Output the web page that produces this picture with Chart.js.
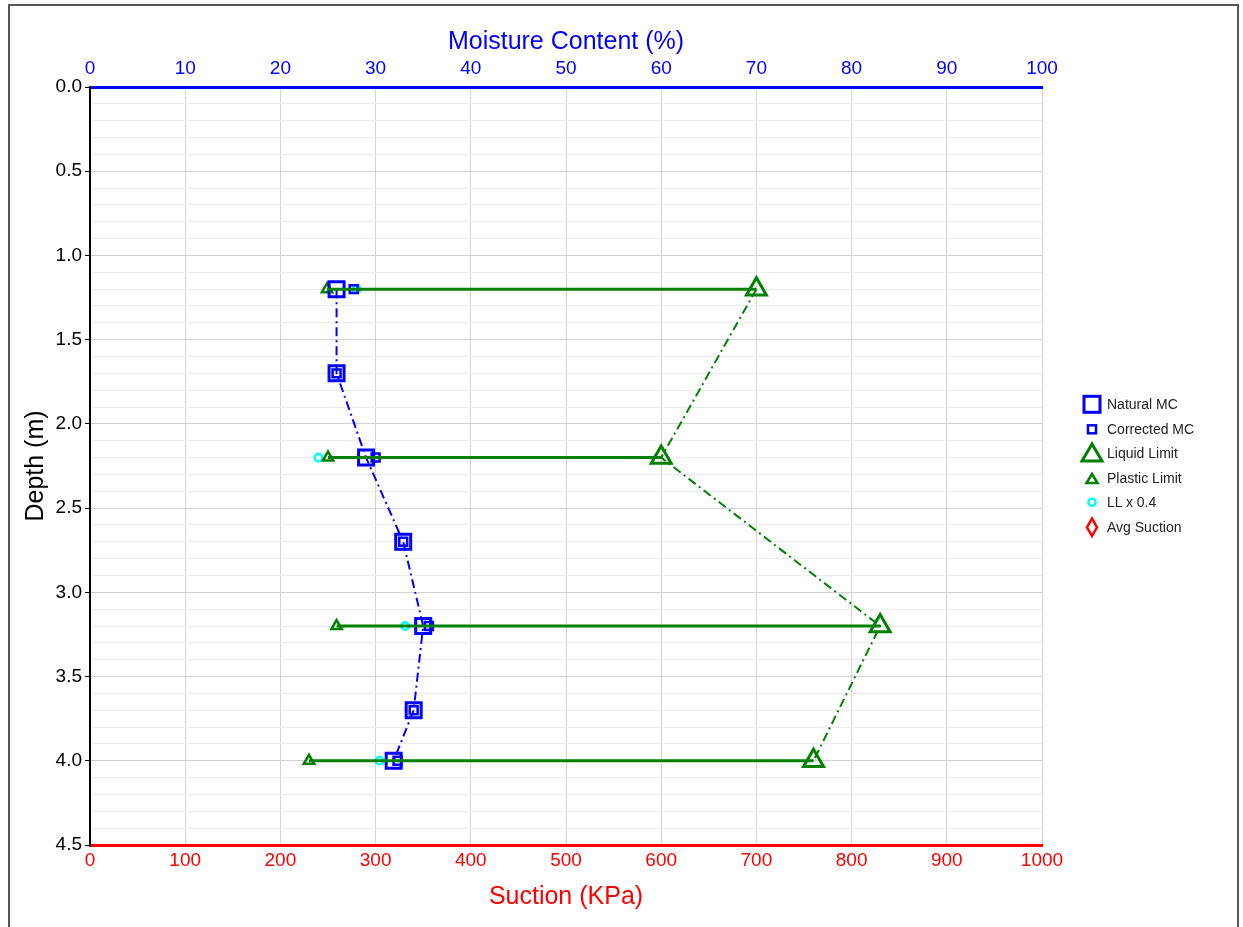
<!DOCTYPE html>
<html>
<head>
<meta charset="utf-8">
<script src="https://cdn.jsdelivr.net/npm/chart.js@4"></script>
<style>
  body { margin: 0; background: #fff; font-family: "Liberation Sans", Arial, sans-serif; }
  #wrap { position: relative; width: 1243px; height: 927px; }
  #frame { position: absolute; left: 8px; top: 4px; width: 1227px; height: 940px; border: 2px solid #555; border-bottom: none; pointer-events: none; }
  #legend { position: absolute; left: 1078px; top: 392px; font-size: 14px; color: #222; }
  #legend .row { position: relative; height: 24.6px; line-height: 24.6px; padding-left: 29px; }
  #legend svg { position: absolute; left: 0; top: 0; }
</style>
</head>
<body>
<div id="wrap">
  <canvas id="myChart" width="1243" height="927"></canvas>
  <div id="frame"></div>
  <div id="legend"></div>
</div>
<script>
// depths (m)
var depthMC = [1.2, 1.7, 2.2, 2.7, 3.2, 3.7, 4.0];
var naturalMC = [25.9, 25.9, 29.0, 32.9, 35.0, 34.0, 31.9];
var correctedMC = [27.7, 25.9, 30.0, 32.9, 35.6, 34.0, 32.3];

var depthLim = [1.2, 2.2, 3.2, 4.0];
var liquidLimit = [70, 60, 83, 76];
var plasticLimit = [24.9, 25.0, 25.9, 23.0];
var llTimes04 = [28.0, 24.0, 33.1, 30.4];

var avgSuction = []; // none plotted

var blue = '#0000ff', green = '#008000', cyan = '#00ffff', red = '#ff0000';

function pts(xs, ys) {
    var out = [];
    for (var i = 0; i < xs.length; i++) out.push({x: xs[i], y: ys[i]});
    return out;
}

// PL -> LL horizontal bars, broken between depths
var rangeLines = [];
for (var i = 0; i < depthLim.length; i++) {
    rangeLines.push({x: plasticLimit[i], y: depthLim[i]});
    rangeLines.push({x: liquidLimit[i], y: depthLim[i]});
    rangeLines.push({x: NaN, y: NaN});
}

var dashDot = [9, 4, 2, 4];
var font = "'Liberation Sans', Arial, sans-serif";

const ctx = document.getElementById('myChart');
chart = new Chart(ctx, {
    type: 'scatter',
    data: {
        datasets: [{
            label: 'range',
            data: rangeLines,
            showLine: true,
            spanGaps: false,
            borderColor: green,
            borderWidth: 3,
            pointRadius: 0
        }, {
            label: 'Natural MC',
            data: pts(naturalMC, depthMC),
            showLine: true,
            borderColor: blue,
            borderWidth: 2,
            borderDash: dashDot,
            pointStyle: 'rect',
            pointRadius: 10.6,
            pointBorderWidth: 3,
            pointBorderColor: blue,
            pointBackgroundColor: 'rgba(0,0,0,0)'
        }, {
            label: 'Corrected MC',
            data: pts(correctedMC, depthMC),
            pointStyle: 'rect',
            pointRadius: 5.6,
            pointBorderWidth: 2.5,
            pointBorderColor: blue,
            pointBackgroundColor: 'rgba(0,0,0,0)'
        }, {
            label: 'Liquid Limit',
            data: pts(liquidLimit, depthLim),
            showLine: true,
            borderColor: green,
            borderWidth: 2,
            borderDash: dashDot,
            pointStyle: 'triangle',
            pointRadius: 11.5,
            pointBorderWidth: 3,
            pointBorderColor: green,
            pointBackgroundColor: 'rgba(0,0,0,0)'
        }, {
            label: 'Plastic Limit',
            data: pts(plasticLimit, depthLim),
            pointStyle: 'triangle',
            pointRadius: 6,
            pointBorderWidth: 2.5,
            pointBorderColor: green,
            pointBackgroundColor: 'rgba(0,0,0,0)'
        }, {
            label: 'LL x 0.4',
            data: pts(llTimes04, depthLim),
            pointStyle: 'circle',
            pointRadius: 3.8,
            pointBorderWidth: 2.5,
            pointBorderColor: cyan,
            pointBackgroundColor: '#fff'
        }, {
            label: 'Avg Suction',
            data: avgSuction,
            xAxisID: 'x2',
            pointStyle: 'rectRot',
            pointRadius: 7,
            pointBorderColor: red
        }]
    },
    options: {
        responsive: false,
        animation: false,
        layout: { padding: { left: 0, top: 0, right: 201, bottom: 0 } },
        plugins: { legend: { display: false }, tooltip: { enabled: false } },
        scales: {
            x: {
                type: 'linear',
                position: 'top',
                min: 0, max: 100,
                afterFit: function(s) { s.height = 87; },
                ticks: { stepSize: 10, color: blue, padding: 7, font: { size: 19, family: font } },
                grid: { color: '#d4d4d4', drawTicks: false },
                border: { color: blue, width: 3 },
                title: { display: true, text: 'Moisture Content (%)', color: blue, padding: { top: 27 }, font: { size: 25, family: font } }
            },
            x2: {
                type: 'linear',
                position: 'bottom',
                min: 0, max: 1000,
                afterFit: function(s) { s.height = 82; },
                ticks: {
                    stepSize: 100, color: red, padding: 4, font: { size: 19, family: font },
                    callback: function(v) { return String(v); }
                },
                grid: { display: false, drawTicks: false },
                border: { color: red, width: 3 },
                title: { display: true, text: 'Suction (KPa)', color: red, padding: { bottom: 15 }, font: { size: 25, family: font } }
            },
            y: {
                type: 'linear',
                reverse: true,
                min: 0, max: 4.5,
                afterFit: function(s) { s.width = 90; },
                ticks: {
                    stepSize: 0.1,
                    autoSkip: false,
                    color: '#000',
                    padding: 3,
                    font: { size: 19, family: font },
                    callback: function(v) {
                        var t = Math.round(v * 10);
                        return t % 5 === 0 ? (t / 10).toFixed(1) : '';
                    }
                },
                grid: {
                    tickLength: 5,
                    color: function(c) { return Math.round(c.tick.value * 10) % 5 === 0 ? '#d2d2d2' : '#ececec'; },
                    tickColor: function(c) { return Math.round(c.tick.value * 10) % 5 === 0 ? '#000' : 'rgba(0,0,0,0)'; }
                },
                border: { color: '#000', width: 2 },
                title: { display: true, text: 'Depth (m)', color: '#000', padding: { top: 21 }, font: { size: 25, family: font } }
            }
        }
    }
});

// legend, drawn beside the chart
var legendItems = [
    { label: 'Natural MC', svg: '<rect x="6" y="4.3" width="16" height="16" fill="none" stroke="' + blue + '" stroke-width="3"/>' },
    { label: 'Corrected MC', svg: '<rect x="10" y="8.3" width="8" height="8" fill="none" stroke="' + blue + '" stroke-width="2.5"/>' },
    { label: 'Liquid Limit', svg: '<polygon points="14,3 24,20 4,20" fill="none" stroke="' + green + '" stroke-width="3"/>' },
    { label: 'Plastic Limit', svg: '<polygon points="14,8 19.5,17 8.5,17" fill="none" stroke="' + green + '" stroke-width="2.5"/>' },
    { label: 'LL x 0.4', svg: '<circle cx="14" cy="12.3" r="3.6" fill="#fff" stroke="' + cyan + '" stroke-width="2.5"/>' },
    { label: 'Avg Suction', svg: '<polygon points="14,3.5 19,12.3 14,21 9,12.3" fill="none" stroke="' + red + '" stroke-width="2.5"/>' }
];
var leg = document.getElementById('legend');
legendItems.forEach(function(item) {
    var row = document.createElement('div');
    row.className = 'row';
    row.innerHTML = '<svg width="28" height="25">' + item.svg + '</svg>' + item.label;
    leg.appendChild(row);
});
</script>
</body>
</html>
